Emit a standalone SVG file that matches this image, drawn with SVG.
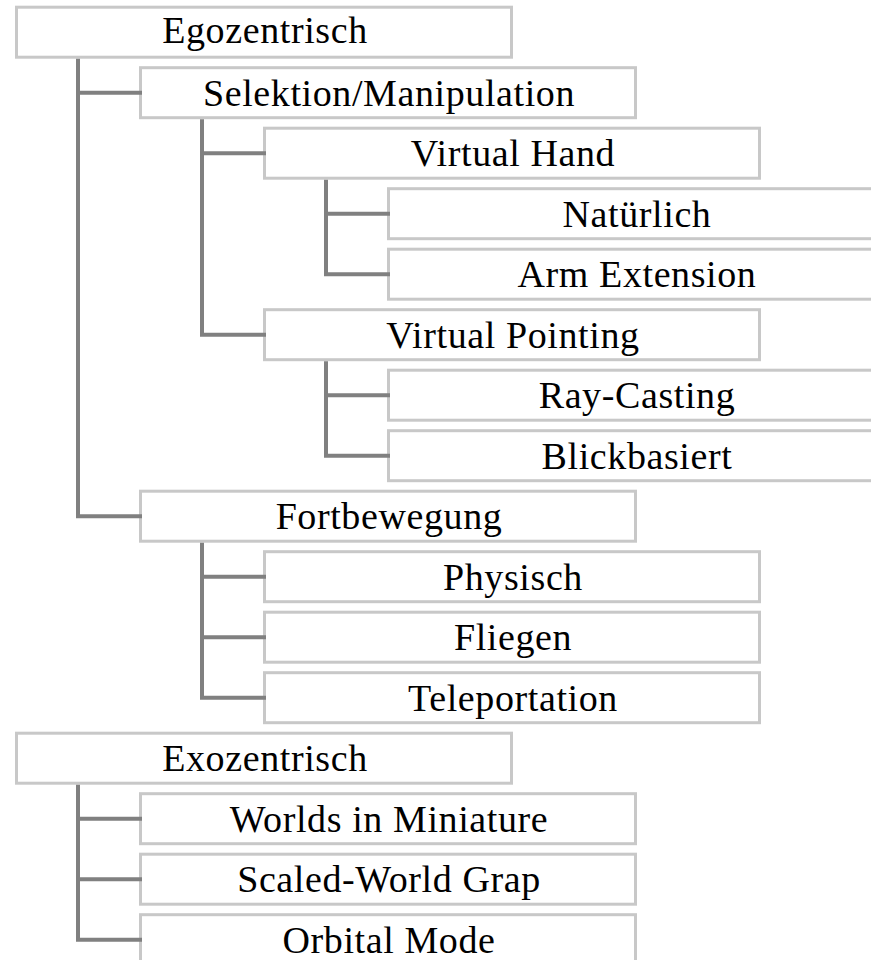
<svg xmlns="http://www.w3.org/2000/svg" width="871" height="960" viewBox="0 0 871 960">
<style>
.box{fill:#ffffff;stroke:#c8c8c8;stroke-width:3}
.lbl{font-family:"Liberation Serif","Times New Roman",serif;font-size:38px;letter-spacing:0.6px;fill:#000000;text-anchor:middle}
.con{fill:none;stroke:#808080;stroke-width:4}
</style>
<rect width="871" height="960" fill="#ffffff"/>
<g id="nodes">
<g id="n0"><rect class="box" x="16.5" y="7.2" width="495" height="50"/><text class="lbl" x="265" y="42.7">Egozentrisch</text></g>
<g id="n1"><rect class="box" x="140.5" y="67.7" width="495" height="50"/><text class="lbl" x="389" y="105.7">Selektion/Manipulation</text></g>
<g id="n2"><rect class="box" x="264.5" y="128.2" width="495" height="50"/><text class="lbl" x="513" y="166.2">Virtual Hand</text></g>
<g id="n3"><rect class="box" x="388.5" y="188.7" width="495" height="50"/><text class="lbl" x="637" y="226.7">Natürlich</text></g>
<g id="n4"><rect class="box" x="388.5" y="249.2" width="495" height="50"/><text class="lbl" x="637" y="287.2">Arm Extension</text></g>
<g id="n5"><rect class="box" x="264.5" y="309.7" width="495" height="50"/><text class="lbl" x="513" y="347.7">Virtual Pointing</text></g>
<g id="n6"><rect class="box" x="388.5" y="370.2" width="495" height="50"/><text class="lbl" x="637" y="408.2">Ray-Casting</text></g>
<g id="n7"><rect class="box" x="388.5" y="430.7" width="495" height="50"/><text class="lbl" x="637" y="468.7">Blickbasiert</text></g>
<g id="n8"><rect class="box" x="140.5" y="491.2" width="495" height="50"/><text class="lbl" x="389" y="529.2">Fortbewegung</text></g>
<g id="n9"><rect class="box" x="264.5" y="551.7" width="495" height="50"/><text class="lbl" x="513" y="589.7">Physisch</text></g>
<g id="n10"><rect class="box" x="264.5" y="612.2" width="495" height="50"/><text class="lbl" x="513" y="650.2">Fliegen</text></g>
<g id="n11"><rect class="box" x="264.5" y="672.7" width="495" height="50"/><text class="lbl" x="513" y="710.7">Teleportation</text></g>
<g id="n12"><rect class="box" x="16.5" y="733.2" width="495" height="50"/><text class="lbl" x="265" y="771.2">Exozentrisch</text></g>
<g id="n13"><rect class="box" x="140.5" y="793.7" width="495" height="50"/><text class="lbl" x="389" y="831.7">Worlds in Miniature</text></g>
<g id="n14"><rect class="box" x="140.5" y="854.2" width="495" height="50"/><text class="lbl" x="389" y="892.2">Scaled-World Grap</text></g>
<g id="n15"><rect class="box" x="140.5" y="914.7" width="495" height="50"/><text class="lbl" x="389" y="952.7">Orbital Mode</text></g>
</g>
<g id="connectors" class="con">
<path d="M78 58.7V518.2M76 92.7H142M76 516.2H142"/>
<path d="M202 119.2V336.7M200 153.2H266M200 334.7H266"/>
<path d="M326 179.7V276.2M324 213.7H390M324 274.2H390"/>
<path d="M326 361.2V457.7M324 395.2H390M324 455.7H390"/>
<path d="M202 542.7V699.7M200 576.7H266M200 637.2H266M200 697.7H266"/>
<path d="M78 784.7V941.7M76 818.7H142M76 879.2H142M76 939.7H142"/>
</g>
</svg>
